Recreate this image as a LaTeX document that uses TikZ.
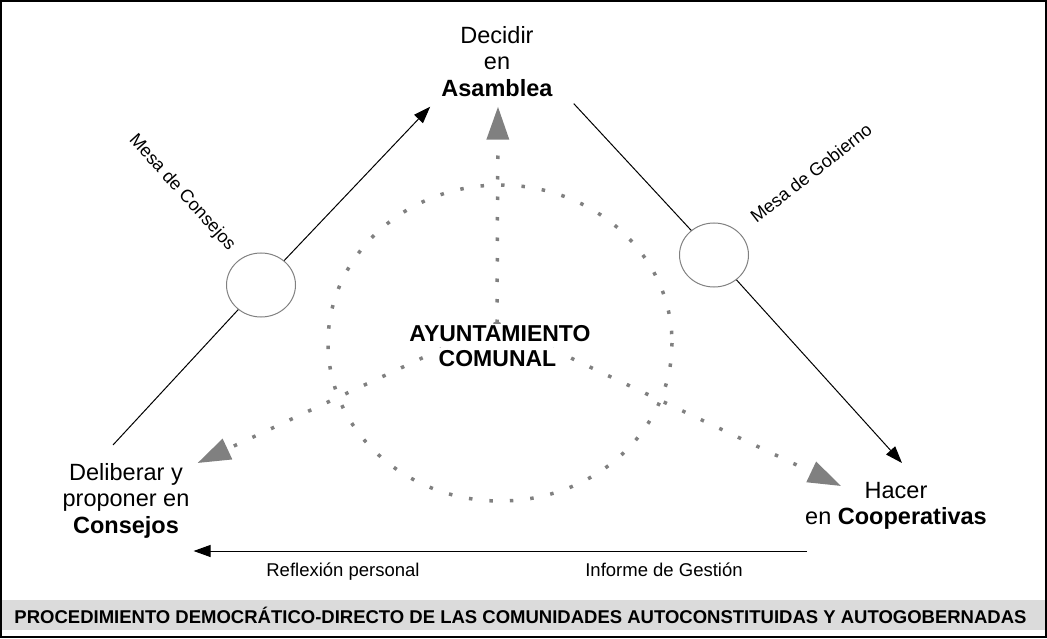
\documentclass[tikz,border=0pt]{standalone}
\usepackage{fontspec}
\setmainfont{Liberation Sans}
\usepackage{xcolor}
\usetikzlibrary{shapes.geometric, arrows.meta, positioning}

\begin{document}
\begin{tikzpicture}[
  x=1pt, y=-1pt,
  font=\fontsize{23.5}{26.5}\selectfont,
  etapa/.style={align=center, inner sep=0pt},
  mesa/.style={ellipse, draw=gray, line width=1pt, fill=white,
               minimum width=69pt, minimum height=64pt},
  central/.style={font=\fontsize{23}{24.5}\selectfont\bfseries,
                  fill=white, inner sep=2pt},
  lbl/.style={font=\fontsize{18.5}{20}\selectfont},
  arr/.style={-{Triangle[length=17pt,width=12pt]}, line width=1pt},
  puntos/.style={draw=gray, line width=3.5pt, dash pattern=on 3.5pt off 17pt},
  flecha/.style={puntos, -{Triangle[length=33pt,width=22pt]}}
]
\useasboundingbox (0,0) rectangle (1047,639);

% ---- Marco y titulo ----
\draw[line width=2pt] (1,1) rectangle (1045.5,636.5);
\fill[black!14] (2,600) rectangle (1044.5,630);
\node[font=\fontsize{18.5}{20}\selectfont\bfseries, anchor=base] (titulo) at (520.5,623)
  {PROCEDIMIENTO DEMOCRÁTICO-DIRECTO DE LAS COMUNIDADES AUTOCONSTITUIDAS Y AUTOGOBERNADAS};

% ---- Etapas ----
\node[etapa, anchor=north] (asamblea) at (497,26) {Decidir\\en\\\textbf{Asamblea}};
\node[etapa, anchor=north] (consejos) at (126,463) {Deliberar y\\proponer en\\\textbf{Consejos}};
\node[etapa, anchor=north] (coop)     at (896,482) {Hacer\\en \textbf{Cooperativas}};

% ---- Mesas ----
\node[mesa] (mcons) at (261,285) {};
\node[mesa] (mgob)  at (714,255) {};

\draw[arr] ([shift={(-13,-18)}]consejos.north) -- (mcons) -- ([shift={(-11,10)}]asamblea.south west);
\draw[arr] ([shift={(21,7)}]asamblea.south east) -- (mgob) -- ([shift={(6,-19)}]coop.north);

\node[lbl, font=\fontsize{18}{20}\selectfont, rotate=-48] (lblcons) at (182,193) {Mesa de Consejos};
\node[lbl, font=\fontsize{18}{20}\selectfont, rotate=38]  (lblgob)  at (811,173) {Mesa de Gobierno};

% ---- Ayuntamiento comunal ----
\coordinate (hub) at (497,323);
\draw[puntos] (500,343) ellipse [x radius=172, y radius=158];
\draw[flecha] (hub) -- ([shift={(1,10)}]asamblea.south);
\draw[flecha] (hub) -- ([shift={(8,0)}]consejos.north east);
\draw[flecha] (hub) -- ([shift={(36,4)}]coop.north west);

\node[central, anchor=base] (ayto)    at (500,341.7) {AYUNTAMIENTO};
\node[central, anchor=base] (comunal) at (497.5,366) {COMUNAL};

% ---- Retorno ----
\coordinate (linea) at (0,551);
\draw[arr] ([shift={(2,0)}]coop.west |- linea) -- ([shift={(4,0)}]consejos.east |- linea);

\node[lbl, anchor=base] (reflexion) at (343,576) {Reflexión personal};
\node[lbl, anchor=base] (informe)   at (664,576) {Informe de Gestión};

\end{tikzpicture}
\end{document}
